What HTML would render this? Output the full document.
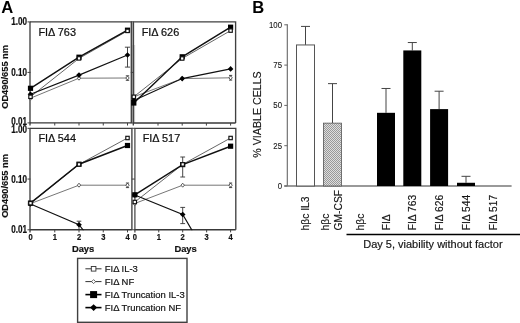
<!DOCTYPE html>
<html><head><meta charset="utf-8"><style>
html,body{margin:0;padding:0;background:#fff;}
svg{display:block;filter:grayscale(1);}
text{font-family:"Liberation Sans",sans-serif;}
</style></head><body>
<svg width="520" height="323" viewBox="0 0 520 323">
<rect x="131.6" y="45" width="3.5" height="78" fill="#c2c2c2"/>
<rect x="131.6" y="22.5" width="3.0" height="22.5" fill="#d6d6d6"/>
<path d="M30.0,21.9H131.3V122.9" fill="none" stroke="#404040" stroke-width="1.35"/>
<path d="M30.0,21.9V125.5" fill="none" stroke="#404040" stroke-width="1.35"/>
<path d="M30.0,122.9H131.3" fill="none" stroke="#383838" stroke-width="1.4"/>
<line x1="54.75" y1="122.9" x2="54.75" y2="125.5" stroke="#404040" stroke-width="1"/>
<line x1="79.0" y1="122.9" x2="79.0" y2="125.5" stroke="#404040" stroke-width="1"/>
<line x1="103.25" y1="122.9" x2="103.25" y2="125.5" stroke="#404040" stroke-width="1"/>
<line x1="127.5" y1="122.9" x2="127.5" y2="125.5" stroke="#404040" stroke-width="1"/>
<line x1="27.5" y1="21.9" x2="30.5" y2="21.9" stroke="#404040" stroke-width="1"/>
<line x1="27.5" y1="72.4" x2="30.5" y2="72.4" stroke="#404040" stroke-width="1"/>
<line x1="27.5" y1="122.9" x2="30.5" y2="122.9" stroke="#404040" stroke-width="1"/>
<text x="38.4" y="35.8" font-size="10.9" fill="#111" stroke="#111" stroke-width="0.22">FIΔ 763</text>
<clipPath id="c0"><rect x="27.5" y="18.9" width="106.80000000000001" height="104.5"/></clipPath>
<path d="M30.50,96.8 L79.00,58.4 L127.50,30.9" fill="none" stroke="#555" stroke-width="0.9" clip-path="url(#c0)"/>
<path d="M30.50,98.2 L79.00,78.2 L127.50,78.0" fill="none" stroke="#666" stroke-width="0.9" clip-path="url(#c0)"/>
<path d="M30.50,88.3 L79.00,57.2 L127.50,30.2" fill="none" stroke="#111" stroke-width="1.45" clip-path="url(#c0)"/>
<path d="M30.50,94.3 L79.00,75.1 L127.50,55.0" fill="none" stroke="#111" stroke-width="1.15" clip-path="url(#c0)"/>
<path d="M124.90,47.2H130.10M127.50,47.2V67.1M124.90,67.1H130.10" stroke="#333" stroke-width="0.9" fill="none" clip-path="url(#c0)"/>
<path d="M125.80,75.8H129.20M127.50,75.8V80.3M125.80,80.3H129.20" stroke="#333" stroke-width="0.9" fill="none" clip-path="url(#c0)"/>
<path d="M30.50,96.2L32.20,98.2L30.50,100.2L28.80,98.2Z" fill="#fff" stroke="#333" stroke-width="0.8"/>
<path d="M79.00,76.2L80.70,78.2L79.00,80.2L77.30,78.2Z" fill="#fff" stroke="#333" stroke-width="0.8"/>
<path d="M127.50,76.0L129.20,78.0L127.50,80.0L125.80,78.0Z" fill="#fff" stroke="#333" stroke-width="0.8"/>
<path d="M30.50,91.5L33.30,94.3L30.50,97.1L27.70,94.3Z" fill="#000"/>
<path d="M79.00,72.3L81.80,75.1L79.00,77.89999999999999L76.20,75.1Z" fill="#000"/>
<path d="M127.50,52.2L130.30,55.0L127.50,57.8L124.70,55.0Z" fill="#000"/>
<rect x="27.90" y="85.7" width="5.2" height="5.2" fill="#000"/>
<rect x="76.40" y="54.6" width="5.2" height="5.2" fill="#000"/>
<rect x="124.90" y="27.599999999999998" width="5.2" height="5.2" fill="#000"/>
<rect x="28.80" y="95.1" width="3.4" height="3.4" fill="#fff" stroke="#111" stroke-width="1.15"/>
<rect x="77.30" y="56.699999999999996" width="3.4" height="3.4" fill="#fff" stroke="#111" stroke-width="1.15"/>
<rect x="125.80" y="29.2" width="3.4" height="3.4" fill="#fff" stroke="#111" stroke-width="1.15"/>
<path d="M133.3,21.8H235.6V123.0" fill="none" stroke="#404040" stroke-width="1.35"/>
<path d="M133.3,21.8V125.6" fill="none" stroke="#404040" stroke-width="1.35"/>
<path d="M133.3,123.0H235.6" fill="none" stroke="#383838" stroke-width="1.4"/>
<line x1="158.0" y1="123.0" x2="158.0" y2="125.6" stroke="#404040" stroke-width="1"/>
<line x1="182.20000000000002" y1="123.0" x2="182.20000000000002" y2="125.6" stroke="#404040" stroke-width="1"/>
<line x1="206.4" y1="123.0" x2="206.4" y2="125.6" stroke="#404040" stroke-width="1"/>
<line x1="230.60000000000002" y1="123.0" x2="230.60000000000002" y2="125.6" stroke="#404040" stroke-width="1"/>
<line x1="130.8" y1="21.8" x2="133.8" y2="21.8" stroke="#404040" stroke-width="1"/>
<line x1="130.8" y1="72.4" x2="133.8" y2="72.4" stroke="#404040" stroke-width="1"/>
<line x1="130.8" y1="123.0" x2="133.8" y2="123.0" stroke="#404040" stroke-width="1"/>
<text x="141.70000000000002" y="35.7" font-size="10.9" fill="#111" stroke="#111" stroke-width="0.22">FIΔ 626</text>
<clipPath id="c1"><rect x="130.8" y="18.8" width="107.79999999999998" height="104.7"/></clipPath>
<path d="M133.80,96.8 L182.20,58.5 L230.60,30.6" fill="none" stroke="#555" stroke-width="0.9" clip-path="url(#c1)"/>
<path d="M133.80,96.8 L182.20,78.6 L230.60,77.8" fill="none" stroke="#666" stroke-width="0.9" clip-path="url(#c1)"/>
<path d="M133.80,103.0 L182.20,56.8 L230.60,27.2" fill="none" stroke="#111" stroke-width="1.45" clip-path="url(#c1)"/>
<path d="M133.80,100.5 L182.20,78.6 L230.60,68.9" fill="none" stroke="#111" stroke-width="1.15" clip-path="url(#c1)"/>
<path d="M229.00,75.4H232.20M230.60,75.4V80.1M229.00,80.1H232.20" stroke="#333" stroke-width="0.9" fill="none" clip-path="url(#c1)"/>
<path d="M133.80,94.8L135.50,96.8L133.80,98.8L132.10,96.8Z" fill="#fff" stroke="#333" stroke-width="0.8"/>
<path d="M182.20,76.6L183.90,78.6L182.20,80.6L180.50,78.6Z" fill="#fff" stroke="#333" stroke-width="0.8"/>
<path d="M230.60,75.8L232.30,77.8L230.60,79.8L228.90,77.8Z" fill="#fff" stroke="#333" stroke-width="0.8"/>
<path d="M133.80,97.7L136.60,100.5L133.80,103.3L131.00,100.5Z" fill="#000"/>
<path d="M182.20,75.8L185.00,78.6L182.20,81.39999999999999L179.40,78.6Z" fill="#000"/>
<path d="M230.60,66.10000000000001L233.40,68.9L230.60,71.7L227.80,68.9Z" fill="#000"/>
<rect x="131.20" y="100.4" width="5.2" height="5.2" fill="#000"/>
<rect x="179.60" y="54.199999999999996" width="5.2" height="5.2" fill="#000"/>
<rect x="228.00" y="24.599999999999998" width="5.2" height="5.2" fill="#000"/>
<rect x="132.10" y="95.1" width="3.4" height="3.4" fill="#fff" stroke="#111" stroke-width="1.15"/>
<rect x="180.50" y="56.8" width="3.4" height="3.4" fill="#fff" stroke="#111" stroke-width="1.15"/>
<rect x="228.90" y="28.900000000000002" width="3.4" height="3.4" fill="#fff" stroke="#111" stroke-width="1.15"/>
<path d="M30.0,128.3H131.9V229.8" fill="none" stroke="#404040" stroke-width="1.35"/>
<path d="M30.0,128.3V232.4" fill="none" stroke="#404040" stroke-width="1.35"/>
<path d="M30.0,229.8H131.9" fill="none" stroke="#383838" stroke-width="1.4"/>
<line x1="54.75" y1="229.8" x2="54.75" y2="232.4" stroke="#404040" stroke-width="1"/>
<line x1="79.0" y1="229.8" x2="79.0" y2="232.4" stroke="#404040" stroke-width="1"/>
<line x1="103.25" y1="229.8" x2="103.25" y2="232.4" stroke="#404040" stroke-width="1"/>
<line x1="127.5" y1="229.8" x2="127.5" y2="232.4" stroke="#404040" stroke-width="1"/>
<line x1="27.5" y1="128.3" x2="30.5" y2="128.3" stroke="#404040" stroke-width="1"/>
<line x1="27.5" y1="179.05" x2="30.5" y2="179.05" stroke="#404040" stroke-width="1"/>
<line x1="27.5" y1="229.8" x2="30.5" y2="229.8" stroke="#404040" stroke-width="1"/>
<text x="38.4" y="142.20000000000002" font-size="10.9" fill="#111" stroke="#111" stroke-width="0.22">FIΔ 544</text>
<clipPath id="c2"><rect x="27.5" y="125.30000000000001" width="107.4" height="105.0"/></clipPath>
<path d="M30.50,203.2 L79.00,164.4 L127.50,138.0" fill="none" stroke="#555" stroke-width="0.9" clip-path="url(#c2)"/>
<path d="M30.50,203.6 L79.00,185.2 L127.50,185.2" fill="none" stroke="#666" stroke-width="0.9" clip-path="url(#c2)"/>
<path d="M30.50,203.1 L79.00,164.2 L127.50,145.5" fill="none" stroke="#111" stroke-width="1.45" clip-path="url(#c2)"/>
<path d="M30.50,204.0 L79.00,224.7 L83.6,230.6" fill="none" stroke="#111" stroke-width="1.15" clip-path="url(#c2)"/>
<path d="M76.70,221.2H81.30M79.00,221.2V229.6M76.70,229.6H81.30" stroke="#333" stroke-width="0.9" fill="none" clip-path="url(#c2)"/>
<path d="M125.90,183.0H129.10M127.50,183.0V187.6M125.90,187.6H129.10" stroke="#333" stroke-width="0.9" fill="none" clip-path="url(#c2)"/>
<path d="M30.50,201.6L32.20,203.6L30.50,205.6L28.80,203.6Z" fill="#fff" stroke="#333" stroke-width="0.8"/>
<path d="M79.00,183.2L80.70,185.2L79.00,187.2L77.30,185.2Z" fill="#fff" stroke="#333" stroke-width="0.8"/>
<path d="M127.50,183.2L129.20,185.2L127.50,187.2L125.80,185.2Z" fill="#fff" stroke="#333" stroke-width="0.8"/>
<path d="M30.50,201.2L33.30,204.0L30.50,206.8L27.70,204.0Z" fill="#000"/>
<path d="M79.00,221.89999999999998L81.80,224.7L79.00,227.5L76.20,224.7Z" fill="#000"/>
<rect x="27.90" y="200.5" width="5.2" height="5.2" fill="#000"/>
<rect x="76.40" y="161.6" width="5.2" height="5.2" fill="#000"/>
<rect x="124.90" y="142.9" width="5.2" height="5.2" fill="#000"/>
<rect x="28.80" y="201.5" width="3.4" height="3.4" fill="#fff" stroke="#111" stroke-width="1.15"/>
<rect x="77.30" y="162.70000000000002" width="3.4" height="3.4" fill="#fff" stroke="#111" stroke-width="1.15"/>
<rect x="125.80" y="136.3" width="3.4" height="3.4" fill="#fff" stroke="#111" stroke-width="1.15"/>
<path d="M134.3,128.3H235.8V229.8" fill="none" stroke="#404040" stroke-width="1.35"/>
<path d="M134.9,128.3V232.4" fill="none" stroke="#404040" stroke-width="1.2"/>
<path d="M134.3,229.8H235.8" fill="none" stroke="#383838" stroke-width="1.4"/>
<line x1="158.75" y1="229.8" x2="158.75" y2="232.4" stroke="#404040" stroke-width="1"/>
<line x1="182.70000000000002" y1="229.8" x2="182.70000000000002" y2="232.4" stroke="#404040" stroke-width="1"/>
<line x1="206.65" y1="229.8" x2="206.65" y2="232.4" stroke="#404040" stroke-width="1"/>
<line x1="230.60000000000002" y1="229.8" x2="230.60000000000002" y2="232.4" stroke="#404040" stroke-width="1"/>
<line x1="131.8" y1="128.3" x2="134.8" y2="128.3" stroke="#404040" stroke-width="1"/>
<line x1="131.8" y1="179.05" x2="134.8" y2="179.05" stroke="#404040" stroke-width="1"/>
<line x1="131.8" y1="229.8" x2="134.8" y2="229.8" stroke="#404040" stroke-width="1"/>
<text x="142.70000000000002" y="142.20000000000002" font-size="10.9" fill="#111" stroke="#111" stroke-width="0.22">FIΔ 517</text>
<clipPath id="c3"><rect x="131.8" y="125.30000000000001" width="107.0" height="105.0"/></clipPath>
<path d="M134.80,202.0 L182.70,164.4 L230.60,138.0" fill="none" stroke="#555" stroke-width="0.9" clip-path="url(#c3)"/>
<path d="M134.80,203.5 L182.70,185.2 L230.60,185.2" fill="none" stroke="#666" stroke-width="0.9" clip-path="url(#c3)"/>
<path d="M134.80,194.8 L182.70,164.6 L230.60,146.2" fill="none" stroke="#111" stroke-width="1.45" clip-path="url(#c3)"/>
<path d="M134.80,195.0 L182.70,214.5 L192.2,230.6" fill="none" stroke="#111" stroke-width="1.15" clip-path="url(#c3)"/>
<path d="M180.30,157.0H185.10M182.70,157.0V177.0M180.30,177.0H185.10" stroke="#333" stroke-width="0.9" fill="none" clip-path="url(#c3)"/>
<path d="M180.30,207.4H185.10M182.70,207.4V223.6M180.30,223.6H185.10" stroke="#333" stroke-width="0.9" fill="none" clip-path="url(#c3)"/>
<path d="M229.00,183.0H232.20M230.60,183.0V187.6M229.00,187.6H232.20" stroke="#333" stroke-width="0.9" fill="none" clip-path="url(#c3)"/>
<path d="M134.80,201.5L136.50,203.5L134.80,205.5L133.10,203.5Z" fill="#fff" stroke="#333" stroke-width="0.8"/>
<path d="M182.70,183.2L184.40,185.2L182.70,187.2L181.00,185.2Z" fill="#fff" stroke="#333" stroke-width="0.8"/>
<path d="M230.60,183.2L232.30,185.2L230.60,187.2L228.90,185.2Z" fill="#fff" stroke="#333" stroke-width="0.8"/>
<path d="M134.80,192.2L137.60,195.0L134.80,197.8L132.00,195.0Z" fill="#000"/>
<path d="M182.70,211.7L185.50,214.5L182.70,217.3L179.90,214.5Z" fill="#000"/>
<rect x="132.20" y="192.20000000000002" width="5.2" height="5.2" fill="#000"/>
<rect x="180.10" y="162.0" width="5.2" height="5.2" fill="#000"/>
<rect x="228.00" y="143.6" width="5.2" height="5.2" fill="#000"/>
<rect x="133.10" y="200.3" width="3.4" height="3.4" fill="#fff" stroke="#111" stroke-width="1.15"/>
<rect x="181.00" y="162.70000000000002" width="3.4" height="3.4" fill="#fff" stroke="#111" stroke-width="1.15"/>
<rect x="228.90" y="136.3" width="3.4" height="3.4" fill="#fff" stroke="#111" stroke-width="1.15"/>
<text transform="translate(26.9,25.45) scale(0.81,1)" font-size="10.0" font-weight="bold" text-anchor="end" fill="#111" stroke="#111" stroke-width="0.22">1.00</text>
<text transform="translate(26.9,75.95) scale(0.81,1)" font-size="10.0" font-weight="bold" text-anchor="end" fill="#111" stroke="#111" stroke-width="0.22">0.10</text>
<text transform="translate(26.9,125.35) scale(0.81,1)" font-size="10.0" font-weight="bold" text-anchor="end" fill="#111" stroke="#111" stroke-width="0.22">0.01</text>
<text transform="translate(7.6,76.9) rotate(-90)" font-size="9.25" font-weight="bold" text-anchor="middle" fill="#111" stroke="#111" stroke-width="0.15">OD490/655 nm</text>
<text transform="translate(26.9,133.35) scale(0.81,1)" font-size="10.0" font-weight="bold" text-anchor="end" fill="#111" stroke="#111" stroke-width="0.22">1.00</text>
<text transform="translate(26.9,182.50) scale(0.81,1)" font-size="10.0" font-weight="bold" text-anchor="end" fill="#111" stroke="#111" stroke-width="0.22">0.10</text>
<text transform="translate(26.9,233.25) scale(0.81,1)" font-size="10.0" font-weight="bold" text-anchor="end" fill="#111" stroke="#111" stroke-width="0.22">0.01</text>
<text transform="translate(7.6,185.95000000000002) rotate(-90)" font-size="9.25" font-weight="bold" text-anchor="middle" fill="#111" stroke="#111" stroke-width="0.15">OD490/655 nm</text>
<text transform="translate(30.50,240.1) scale(0.85,1)" font-size="8.9" font-weight="bold" text-anchor="middle" fill="#111" stroke="#111" stroke-width="0.2">0</text>
<text transform="translate(54.75,240.1) scale(0.85,1)" font-size="8.9" font-weight="bold" text-anchor="middle" fill="#111" stroke="#111" stroke-width="0.2">1</text>
<text transform="translate(79.00,240.1) scale(0.85,1)" font-size="8.9" font-weight="bold" text-anchor="middle" fill="#111" stroke="#111" stroke-width="0.2">2</text>
<text transform="translate(103.25,240.1) scale(0.85,1)" font-size="8.9" font-weight="bold" text-anchor="middle" fill="#111" stroke="#111" stroke-width="0.2">3</text>
<text transform="translate(127.50,240.1) scale(0.85,1)" font-size="8.9" font-weight="bold" text-anchor="middle" fill="#111" stroke="#111" stroke-width="0.2">4</text>
<text x="83.1" y="251.7" font-size="9.4" font-weight="bold" text-anchor="middle" fill="#111" stroke="#111" stroke-width="0.2">Days</text>
<text transform="translate(134.80,240.1) scale(0.85,1)" font-size="8.9" font-weight="bold" text-anchor="middle" fill="#111" stroke="#111" stroke-width="0.2">0</text>
<text transform="translate(158.75,240.1) scale(0.85,1)" font-size="8.9" font-weight="bold" text-anchor="middle" fill="#111" stroke="#111" stroke-width="0.2">1</text>
<text transform="translate(182.70,240.1) scale(0.85,1)" font-size="8.9" font-weight="bold" text-anchor="middle" fill="#111" stroke="#111" stroke-width="0.2">2</text>
<text transform="translate(206.65,240.1) scale(0.85,1)" font-size="8.9" font-weight="bold" text-anchor="middle" fill="#111" stroke="#111" stroke-width="0.2">3</text>
<text transform="translate(230.60,240.1) scale(0.85,1)" font-size="8.9" font-weight="bold" text-anchor="middle" fill="#111" stroke="#111" stroke-width="0.2">4</text>
<text x="185.6" y="251.7" font-size="9.4" font-weight="bold" text-anchor="middle" fill="#111" stroke="#111" stroke-width="0.2">Days</text>
<rect x="77.6" y="258.4" width="109.4" height="63.9" fill="none" stroke="#404040" stroke-width="1.4"/>
<line x1="85.4" y1="268.8" x2="101.5" y2="268.8" stroke="#333" stroke-width="1.0"/>
<rect x="91.3" y="266.5" width="4.6" height="4.6" fill="#fff" stroke="#333" stroke-width="0.9"/>
<text x="104.8" y="272.1" font-size="9.45" fill="#111" stroke="#111" stroke-width="0.18">FIΔ IL-3</text>
<line x1="85.4" y1="281.6" x2="101.5" y2="281.6" stroke="#333" stroke-width="1.0"/>
<path d="M93.6,279.6L95.6,281.6L93.6,283.6L91.6,281.6Z" fill="#fff" stroke="#444" stroke-width="0.8"/>
<text x="104.8" y="284.90000000000003" font-size="9.45" fill="#111" stroke="#111" stroke-width="0.18">FIΔ NF</text>
<line x1="85.4" y1="294.6" x2="101.5" y2="294.6" stroke="#000" stroke-width="1.6"/>
<rect x="90.1" y="291.1" width="7" height="7" fill="#000"/>
<text x="104.8" y="297.90000000000003" font-size="9.45" fill="#111" stroke="#111" stroke-width="0.18">FIΔ Truncation IL-3</text>
<line x1="85.4" y1="307.6" x2="101.5" y2="307.6" stroke="#000" stroke-width="1.6"/>
<path d="M93.6,304.3L97.1,307.6L93.6,310.90000000000003L90.1,307.6Z" fill="#000"/>
<text x="104.8" y="310.90000000000003" font-size="9.45" fill="#111" stroke="#111" stroke-width="0.18">FIΔ Truncation NF</text>
<text x="1.3" y="12.6" font-size="16.6" font-weight="bold" fill="#000">A</text>
<text x="252.2" y="12.9" font-size="16.6" font-weight="bold" fill="#000">B</text>
<line x1="287.3" y1="24.299999999999983" x2="287.3" y2="186.0" stroke="#666" stroke-width="1.1"/>
<line x1="284.3" y1="186.0" x2="511.6" y2="186.0" stroke="#777" stroke-width="1.5"/>
<line x1="284.3" y1="186.0" x2="287.3" y2="186.0" stroke="#666" stroke-width="1"/>
<text transform="translate(282.0,188.90) scale(0.87,1)" font-size="9" text-anchor="end" fill="#1a1a1a" stroke="#1a1a1a" stroke-width="0.12">0</text>
<line x1="284.3" y1="145.7" x2="287.3" y2="145.7" stroke="#666" stroke-width="1"/>
<text transform="translate(282.0,148.60) scale(0.87,1)" font-size="9" text-anchor="end" fill="#1a1a1a" stroke="#1a1a1a" stroke-width="0.12">25</text>
<line x1="284.3" y1="105.39999999999999" x2="287.3" y2="105.39999999999999" stroke="#666" stroke-width="1"/>
<text transform="translate(282.0,108.30) scale(0.87,1)" font-size="9" text-anchor="end" fill="#1a1a1a" stroke="#1a1a1a" stroke-width="0.12">50</text>
<line x1="284.3" y1="65.1" x2="287.3" y2="65.1" stroke="#666" stroke-width="1"/>
<text transform="translate(282.0,68.00) scale(0.87,1)" font-size="9" text-anchor="end" fill="#1a1a1a" stroke="#1a1a1a" stroke-width="0.12">75</text>
<line x1="284.3" y1="24.799999999999983" x2="287.3" y2="24.799999999999983" stroke="#666" stroke-width="1"/>
<text transform="translate(282.0,27.70) scale(0.87,1)" font-size="9" text-anchor="end" fill="#1a1a1a" stroke="#1a1a1a" stroke-width="0.12">100</text>
<text transform="translate(260.6,114.5) rotate(-90)" font-size="10.65" text-anchor="middle" fill="#151515" stroke="#151515" stroke-width="0.15">% VIABLE CELLS</text>
<defs><pattern id="hp" width="2" height="2" patternUnits="userSpaceOnUse"><rect width="2" height="2" fill="#dedede"/><rect width="1" height="1" fill="#999"/><rect x="1" y="1" width="1" height="1" fill="#999"/></pattern></defs>
<path d="M305.5,44.94999999999999V26.411999999999978M301.0,26.411999999999978H310.0" stroke="#444" stroke-width="1" fill="none"/>
<rect x="296.5" y="44.94999999999999" width="18" height="141.05" fill="#fff" stroke="#555" stroke-width="1"/>
<path d="M332.5,123.132V83.63799999999999M328.0,83.63799999999999H337.0" stroke="#444" stroke-width="1" fill="none"/>
<rect x="323.5" y="123.132" width="18" height="62.867999999999995" fill="url(#hp)" stroke="#555" stroke-width="0.8"/>
<path d="M386,112.8152V88.47399999999999M381.5,88.47399999999999H390.5" stroke="#444" stroke-width="1" fill="none"/>
<rect x="377.0" y="112.8152" width="18" height="73.1848" fill="#000"/>
<path d="M412.3,50.430800000000005V42.53199999999998M407.8,42.53199999999998H416.8" stroke="#444" stroke-width="1" fill="none"/>
<rect x="403.3" y="50.430800000000005" width="18" height="135.5692" fill="#000"/>
<path d="M439.1,109.10759999999999V91.2144M434.6,91.2144H443.6" stroke="#444" stroke-width="1" fill="none"/>
<rect x="430.1" y="109.10759999999999" width="18" height="76.89240000000001" fill="#000"/>
<path d="M466,182.776V176.328M461.5,176.328H470.5" stroke="#444" stroke-width="1" fill="none"/>
<rect x="457.0" y="182.776" width="18" height="3.2239999999999895" fill="#000"/>
<text transform="translate(309.3,230.5) rotate(-90)" font-size="10.3" fill="#151515" stroke="#151515" stroke-width="0.15">hβc IL3</text>
<text transform="translate(328.6,230.5) rotate(-90)" font-size="10.3" fill="#151515" stroke="#151515" stroke-width="0.15">hβc</text>
<text transform="translate(341.8,230.5) rotate(-90)" font-size="10.3" fill="#151515" stroke="#151515" stroke-width="0.15">GM-CSF</text>
<text transform="translate(363.6,230.5) rotate(-90)" font-size="10.3" fill="#151515" stroke="#151515" stroke-width="0.15">hβc</text>
<text transform="translate(389.7,230.3) rotate(-90)" font-size="10.3" fill="#151515" stroke="#151515" stroke-width="0.15">FIΔ</text>
<text transform="translate(416.0,230.3) rotate(-90)" font-size="10.3" fill="#151515" stroke="#151515" stroke-width="0.15">FIΔ 763</text>
<text transform="translate(442.8,230.3) rotate(-90)" font-size="10.3" fill="#151515" stroke="#151515" stroke-width="0.15">FIΔ 626</text>
<text transform="translate(469.7,230.3) rotate(-90)" font-size="10.3" fill="#151515" stroke="#151515" stroke-width="0.15">FIΔ 544</text>
<text transform="translate(496.5,230.3) rotate(-90)" font-size="10.3" fill="#151515" stroke="#151515" stroke-width="0.15">FIΔ 517</text>
<line x1="346.5" y1="234.5" x2="520" y2="234.5" stroke="#000" stroke-width="1.6"/>
<text x="363.2" y="248.1" font-size="11" fill="#151515" stroke="#151515" stroke-width="0.18">Day 5, viability without factor</text>
</svg>
</body></html>
